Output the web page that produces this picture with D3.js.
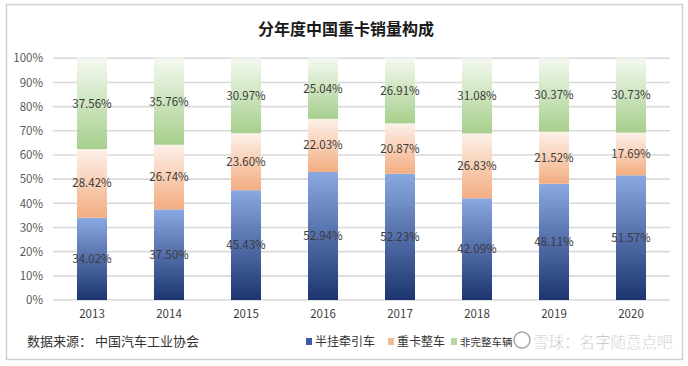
<!DOCTYPE html>
<html><head><meta charset="utf-8">
<script src="https://cdn.jsdelivr.net/npm/d3@7/dist/d3.min.js"></script>
<style>
body{margin:0;background:#fff;}
text{font-family:"Noto Sans CJK SC","Liberation Sans",sans-serif;}
</style></head>
<body><svg id="c" width="688" height="366"></svg>
<script>
const title = "分年度中国重卡销量构成";
const years = ["2013","2014","2015","2016","2017","2018","2019","2020"];
const seriesNames = ["半挂牵引车","重卡整车","非完整车辆"];
const tractor = [34.02,37.50,45.43,52.94,52.23,42.09,48.11,51.57];
const complete = [28.42,26.74,23.60,22.03,20.87,26.83,21.52,17.69];
const incomplete = [37.56,35.76,30.97,25.04,26.91,31.08,30.37,30.73];
const yTicks = [0,10,20,30,40,50,60,70,80,90,100];
const source = "数据来源： 中国汽车工业协会";
const watermark = "雪球：名字随意点吧";

const svg = d3.select("#c");
svg.append("rect").attr("x",6.5).attr("y",4.5).attr("width",676).attr("height",355)
  .attr("fill","#fff").attr("stroke","#d0d0d0").attr("stroke-width",1.5);

svg.append("text").attr("x",346).attr("y",35).attr("text-anchor","middle")
  .attr("font-size",16).attr("font-weight","bold").attr("fill","#1a1a1a").text(title);

const x = d3.scaleBand().domain(years).range([53.5,669.5]).paddingInner(0.61).paddingOuter(0.305);
const y = d3.scaleLinear().domain([0,100]).range([300,58.3]);

svg.append("g").selectAll("line").data(yTicks).join("line")
  .attr("x1",53).attr("x2",670).attr("y1",d=>y(d)).attr("y2",d=>y(d))
  .attr("stroke","#d9d9d9").attr("stroke-width",1.6);

const yAxis = svg.append("g").attr("transform","translate(53,0)")
  .call(d3.axisLeft(y).tickValues(yTicks).tickFormat(d=>d+"%").tickSize(0).tickPadding(10));
yAxis.select(".domain").remove();
yAxis.selectAll("text").attr("font-size",11.5).attr("fill","#595959").attr("font-family","Liberation Sans, sans-serif");

const xAxis = svg.append("g").attr("transform","translate(0,300)")
  .call(d3.axisBottom(x).tickSize(0).tickPadding(10));
xAxis.select(".domain").remove();
xAxis.selectAll("text").attr("font-size",11.5).attr("fill","#404040").attr("font-family","Liberation Sans, sans-serif");

const defs = svg.append("defs");
const grads = [
  ["gBlue","#1c3571","#8aa8e2"],
  ["gOrange","#f3ad80","#fdf1ea"],
  ["gGreen","#a6cf8c","#f4f9f0"]
];
grads.forEach(([id,c0,c1])=>{
  const g = defs.append("linearGradient").attr("id",id).attr("x1",0).attr("y1",1).attr("x2",0).attr("y2",0);
  g.append("stop").attr("offset","0%").attr("stop-color",c0);
  g.append("stop").attr("offset","100%").attr("stop-color",c1);
});

const rows = years.map((yr,i)=>({year:yr, a:tractor[i], b:complete[i], c:incomplete[i]}));
const stack = d3.stack().keys(["a","b","c"])(rows);
const fills = ["url(#gBlue)","url(#gOrange)","url(#gGreen)"];

stack.forEach((layer,li)=>{
  svg.append("g").selectAll("rect").data(layer).join("rect")
    .attr("x",d=>x(d.data.year)).attr("width",x.bandwidth())
    .attr("y",d=>y(d[1])).attr("height",d=>y(d[0])-y(d[1]))
    .attr("fill",fills[li]);
});
stack.forEach((layer,li)=>{
  svg.append("g").selectAll("text").data(layer).join("text")
    .attr("x",d=>x(d.data.year)+x.bandwidth()/2)
    .attr("y",d=>y((d[0]+d[1])/2)+4)
    .attr("text-anchor","middle").attr("font-size",11.5).attr("fill","#3a3a3a")
    .attr("font-family","Liberation Sans, sans-serif")
    .text(d=>(d[1]-d[0]).toFixed(2)+"%");
});

svg.append("text").attr("x",27).attr("y",346).attr("font-size",13).attr("fill","#333").text(source);

const legColors = ["#3a5ba8","#f4b99a","#b5d6a0"];
const legX = [306,388,451];
seriesNames.forEach((n,i)=>{
  svg.append("rect").attr("x",legX[i]).attr("y",338).attr("width",6).attr("height",7).attr("fill",legColors[i]);
  svg.append("text").attr("x",legX[i]+9).attr("y",346).attr("font-size",i===2?10.5:12).attr("fill","#333").text(n);
});

const wm = svg.append("g").attr("opacity",0.75);
wm.append("circle").attr("cx",522).attr("cy",340).attr("r",8).attr("fill","none").attr("stroke","#8a8a8a").attr("stroke-width",1.5);
wm.append("text").attr("x",533).attr("y",348).attr("font-size",15.5).attr("fill","#a0a0a0")
  .attr("stroke","#fff").attr("stroke-width",0.5).text(watermark);
</script></body></html>
